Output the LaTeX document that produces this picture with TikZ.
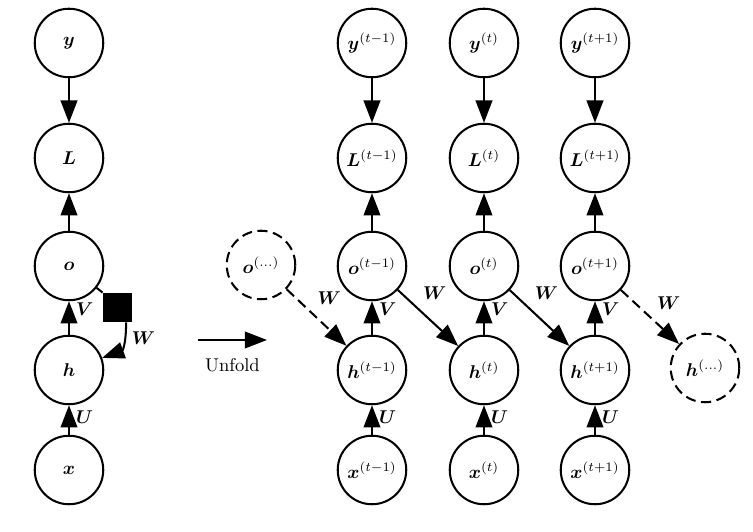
\documentclass[tikz,border=0pt]{standalone}
\usepackage{bm}
\usetikzlibrary{arrows.meta}
\tikzset{every path/.style={line width=1.1pt},
  unit/.style={circle, draw, minimum size=37pt, inner sep=0pt},
  ghost/.style={unit, dash pattern=on 5.5pt off 3pt},
  tip/.style={-{Triangle[length=12pt,width=9pt]}},
  skip/.style={tip, dash pattern=on 5.5pt off 3pt}}

\begin{document}
\begin{tikzpicture}[x=0.54pt, y=0.54pt]
  \useasboundingbox (0,0) rectangle (753,532);
  % folded network
  \begin{scope}
    \node[unit] (y) at (69,489) {$\bm{y}$};
    \node[unit] (L) at (69,374) {$\bm{L}$};
    \node[unit] (o) at (69,266) {$\bm{o}$};
    \node[unit] (h) at (69,162) {$\bm{h}$};
    \node[unit] (x) at (69, 62) {$\bm{x}$};
    \node[draw, fill, minimum size=15pt, inner sep=0pt] (s) at (117.5,224.5) {};
    \draw[tip] (y) -- (L);
    \draw[tip] (o) -- (L);
    \draw[tip] (h) -- node[pos=0.75, right] {$\bm{V}$} (o);
    \draw[tip] (x) -- node[pos=0.6, right] {$\bm{U}$} (h);
    \draw (o) -- (s.north west);
    \draw[tip] (s.-60) to[out=-90, in=20, looseness=1.3] node[pos=0.3, right] {$\bm{W}$} (h);
  \end{scope}
  % unfold arrow
  \coordinate (u1) at (198,192);
  \coordinate (u2) at (267,192);
  \draw[tip] (u1) -- node[below=6pt] {Unfold} (u2);
  % unfolded network
  \begin{scope}
    \node[unit] (y1) at (372,489) {$\bm{y}^{(t-1)}$};
    \node[unit] (L1) at (372,374) {$\bm{L}^{(t-1)}$};
    \node[unit] (o1) at (372,266) {$\bm{o}^{(t-1)}$};
    \node[unit] (h1) at (372,162) {$\bm{h}^{(t-1)}$};
    \node[unit] (x1) at (372, 62) {$\bm{x}^{(t-1)}$};
    \node[unit] (y2) at (484,489) {$\bm{y}^{(t)}$};
    \node[unit] (L2) at (484,374) {$\bm{L}^{(t)}$};
    \node[unit] (o2) at (484,266) {$\bm{o}^{(t)}$};
    \node[unit] (h2) at (484,162) {$\bm{h}^{(t)}$};
    \node[unit] (x2) at (484, 62) {$\bm{x}^{(t)}$};
    \node[unit] (y3) at (595,489) {$\bm{y}^{(t+1)}$};
    \node[unit] (L3) at (595,374) {$\bm{L}^{(t+1)}$};
    \node[unit] (o3) at (595,266) {$\bm{o}^{(t+1)}$};
    \node[unit] (h3) at (595,162) {$\bm{h}^{(t+1)}$};
    \node[unit] (x3) at (595, 62) {$\bm{x}^{(t+1)}$};
    \node[ghost] (oa) at (261,267) {$\bm{o}^{(\dots)}$};
    \node[ghost] (hb) at (705,164) {$\bm{h}^{(\dots)}$};
    \draw[tip] (y1) -- (L1);
    \draw[tip] (o1) -- (L1);
    \draw[tip] (h1) -- node[pos=0.75, right] {$\bm{V}$} (o1);
    \draw[tip] (x1) -- node[pos=0.6, right] {$\bm{U}$} (h1);
    \draw[tip] (y2) -- (L2);
    \draw[tip] (o2) -- (L2);
    \draw[tip] (h2) -- node[pos=0.75, right] {$\bm{V}$} (o2);
    \draw[tip] (x2) -- node[pos=0.6, right] {$\bm{U}$} (h2);
    \draw[tip] (y3) -- (L3);
    \draw[tip] (o3) -- (L3);
    \draw[tip] (h3) -- node[pos=0.75, right] {$\bm{V}$} (o3);
    \draw[tip] (x3) -- node[pos=0.6, right] {$\bm{U}$} (h3);
    \draw[skip] (oa) -- node[pos=0.4, above right] {$\bm{W}$} (h1);
    \draw[tip] (o1) -- node[pos=0.3, above right] {$\bm{W}$} (h2);
    \draw[tip] (o2) -- node[pos=0.3, above right] {$\bm{W}$} (h3);
    \draw[skip] (o3) -- node[pos=0.5, above right] {$\bm{W}$} (hb);
  \end{scope}
\end{tikzpicture}
\end{document}
